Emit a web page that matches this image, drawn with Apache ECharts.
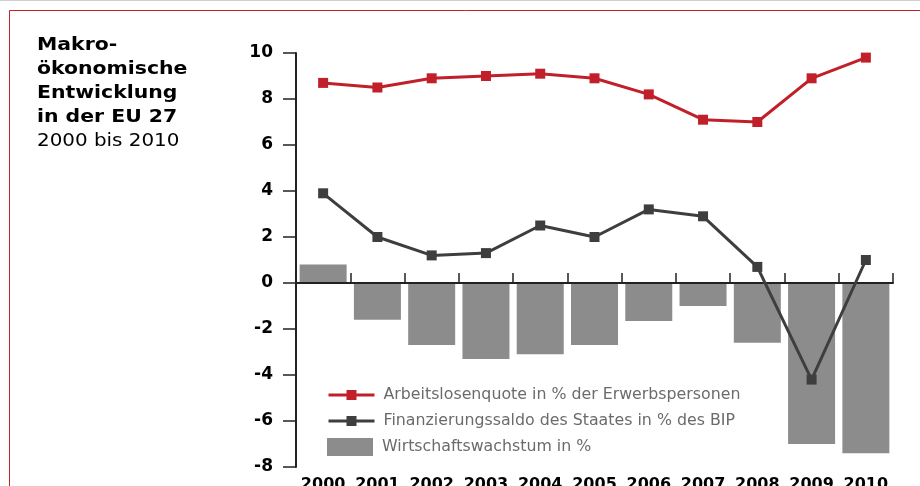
<!DOCTYPE html>
<html>
<head>
<meta charset="utf-8">
<script src="https://cdn.jsdelivr.net/npm/echarts@6/dist/echarts.min.js"></script>
<style>
  html, body { margin: 0; padding: 0; background: #fff; }
  #chart { width: 920px; height: 486px; }
</style>
</head>
<body>
<div id="chart"></div>
<script>
// Jahre (Kategorien)
const years = ['2000', '2001', '2002', '2003', '2004', '2005', '2006', '2007', '2008', '2009', '2010'];
// Arbeitslosenquote in % der Erwerbspersonen
const arbeitslosenquote = [8.7, 8.5, 8.9, 9.0, 9.1, 8.9, 8.2, 7.1, 7.0, 8.9, 9.8];
// Finanzierungssaldo des Staates in % des BIP
const finanzierungssaldo = [3.9, 2.0, 1.2, 1.3, 2.5, 2.0, 3.2, 2.9, 0.7, -4.2, 1.0];
// Wirtschaftswachstum in %
const wachstum = [0.8, -1.6, -2.7, -3.3, -3.1, -2.7, -1.65, -1.0, -2.6, -7.0, -7.4];

const FONT = '"DejaVu Sans", Verdana, sans-serif';
const RED = '#c1202b';
const DARK = '#3e3e3e';
const GREY = '#8c8c8c';

const myChart = echarts.init(document.getElementById('chart'));

const option = {
  animation: false,
  textStyle: { fontFamily: FONT },
  // Rahmen + Titel
  graphic: [
    {
      type: 'rect',
      silent: true,
      shape: { x: 9.5, y: 10.5, width: 2000, height: 2000 },
      style: { fill: 'none', stroke: '#c8202a', lineWidth: 1 }
    },
    {
      type: 'line',
      silent: true,
      shape: { x1: 0, y1: 0.5, x2: 920, y2: 0.5 },
      style: { stroke: '#d0d0d0', lineWidth: 1 }
    },
    {
      type: 'text',
      x: 37,
      y: 34,
      scaleX: 1.2,
      style: {
        text: 'Makro-\nökonomische\nEntwicklung\nin der EU 27',
        font: 'bold 17px ' + FONT,
        lineHeight: 24,
        fill: '#000'
      }
    },
    {
      type: 'text',
      x: 37,
      y: 130,
      scaleX: 1.17,
      style: {
        text: '2000 bis 2010',
        font: '17px ' + FONT,
        lineHeight: 24,
        fill: '#000'
      }
    }
  ],
  legend: [
    {
      data: ['Arbeitslosenquote in % der Erwerbspersonen', 'Finanzierungssaldo des Staates in % des BIP'],
      orient: 'vertical',
      left: 327,
      top: 387,
      padding: 0,
      itemWidth: 46,
      itemHeight: 12.5,
      itemGap: 10,
      lineStyle: { width: 3 },
      textStyle: { color: '#6b6b6b', fontSize: 15.8, lineHeight: 16, padding: [0, 0, 0, 4], fontFamily: FONT }
    },
    {
      data: [{ name: 'Wirtschaftswachstum in %', icon: 'rect' }],
      left: 327,
      top: 438,
      padding: 0,
      itemWidth: 46,
      itemHeight: 18,
      textStyle: { color: '#6b6b6b', fontSize: 15.8, lineHeight: 18, padding: [0, 0, 0, 4], fontFamily: FONT }
    }
  ],
  grid: {
    left: 296,
    right: 27,
    top: 53,
    bottom: 19,
    containLabel: false,
    outerBoundsMode: 'none'
  },
  xAxis: [
    {
      // Nulllinie mit Teilstrichen
      type: 'category',
      data: years,
      z: 3,
      axisLine: { onZero: true, lineStyle: { color: '#222', width: 2 } },
      axisTick: { show: true, inside: true, length: 10, interval: 0, lineStyle: { color: '#222', width: 1.5 } },
      axisLabel: { show: false },
      splitLine: { show: false }
    },
    {
      // Jahreszahlen unten
      type: 'category',
      data: years,
      position: 'bottom',
      axisLine: { show: false, onZero: false },
      axisTick: { show: false },
      axisLabel: { show: true, interval: 0, margin: 10, color: '#000', fontSize: 16, fontWeight: 'bold', fontFamily: FONT },
      splitLine: { show: false }
    }
  ],
  yAxis: {
    type: 'value',
    min: -8,
    max: 10,
    interval: 2,
    axisLine: { show: true, onZero: false, lineStyle: { color: '#222', width: 2 } },
    axisTick: { show: true, length: 13, lineStyle: { color: '#222', width: 1.5 } },
    axisLabel: { margin: 23, color: '#000', fontSize: 17, fontWeight: 'bold', fontFamily: FONT },
    splitLine: { show: false }
  },
  series: [
    {
      name: 'Wirtschaftswachstum in %',
      type: 'bar',
      xAxisIndex: 0,
      barWidth: 47,
      itemStyle: { color: GREY },
      data: wachstum
    },
    {
      name: 'Finanzierungssaldo des Staates in % des BIP',
      type: 'line',
      xAxisIndex: 0,
      symbol: 'rect',
      symbolSize: 10,
      lineStyle: { color: DARK, width: 3 },
      itemStyle: { color: DARK },
      data: finanzierungssaldo
    },
    {
      name: 'Arbeitslosenquote in % der Erwerbspersonen',
      type: 'line',
      xAxisIndex: 0,
      symbol: 'rect',
      symbolSize: 10,
      lineStyle: { color: RED, width: 3 },
      itemStyle: { color: RED },
      data: arbeitslosenquote
    }
  ]
};

option && myChart.setOption(option);
</script>
</body>
</html>
